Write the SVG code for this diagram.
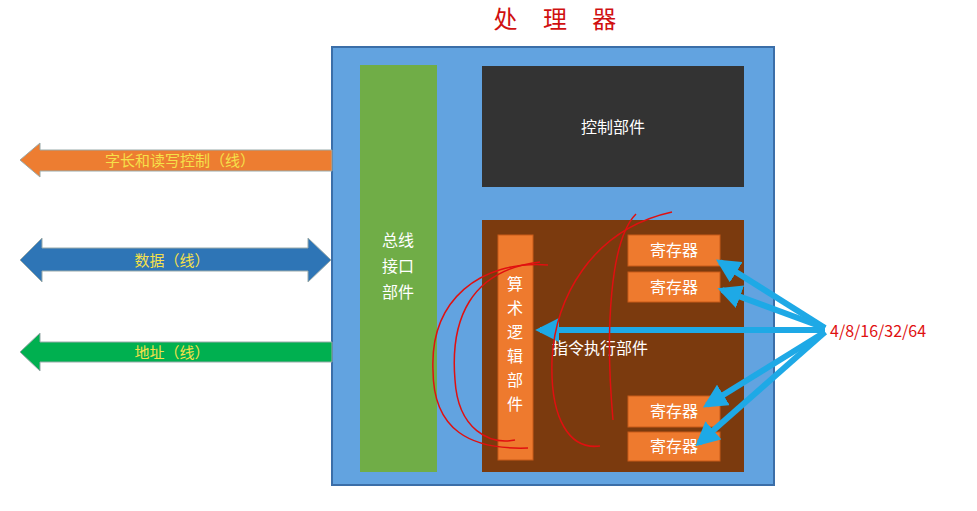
<svg xmlns="http://www.w3.org/2000/svg" width="977" height="511" viewBox="0 0 977 511">
<defs>
<style>
.t{font-family:"Noto Sans CJK SC","Liberation Sans",sans-serif}
.w{fill:#fff;font-size:16px}
.y{fill:#f5e04a;font-size:15px}
.reg{fill:#ee7a2e;stroke:#c85a18;stroke-width:1}
.ba{stroke:#1ea9e6;stroke-width:6;fill:none}
.red{stroke:#e01010;stroke-width:1.5;fill:none}
</style>
<marker id="ah" viewBox="0 0 10 10" refX="8" refY="5" markerWidth="4" markerHeight="4" orient="auto"><path d="M0,0 L10,5 L0,10 z" fill="#1ea9e6"/></marker>
</defs>
<rect width="977" height="511" fill="#fff"/>
<text class="t" x="560" y="28" text-anchor="middle" font-size="24" fill="#d01010" letter-spacing="10">处 理 器</text>
<g id="processor"><rect x="332" y="47" width="442" height="438" fill="#62a3e0" stroke="#3b6ea8" stroke-width="2"/></g>
<g id="bus"><rect x="360" y="65" width="77" height="407" fill="#70ad47"/>
<text class="t w" x="398" y="246" text-anchor="middle">总线</text><text class="t w" x="398" y="272" text-anchor="middle">接口</text><text class="t w" x="398" y="298" text-anchor="middle">部件</text></g>
<g id="ctrl"><rect x="482" y="66" width="262" height="121" fill="#333"/><text class="t w" x="613" y="133" text-anchor="middle">控制部件</text></g>
<g id="exec"><rect x="482" y="220" width="262" height="252" fill="#7b3a0e"/><text class="t w" x="552" y="354">指令执行部件</text></g>
<g id="alu"><rect x="498" y="235" width="35" height="225" class="reg"/>
<text class="t w" x="515" y="290" text-anchor="middle">算</text><text class="t w" x="515" y="314" text-anchor="middle">术</text><text class="t w" x="515" y="338" text-anchor="middle">逻</text><text class="t w" x="515" y="362" text-anchor="middle">辑</text><text class="t w" x="515" y="386" text-anchor="middle">部</text><text class="t w" x="515" y="410" text-anchor="middle">件</text></g>
<g id="r1"><rect x="628" y="235" width="92" height="31" class="reg"/><text class="t w" x="674" y="256" text-anchor="middle">寄存器</text></g>
<g id="r2"><rect x="628" y="272" width="92" height="30" class="reg"/><text class="t w" x="674" y="293" text-anchor="middle">寄存器</text></g>
<g id="r3"><rect x="628" y="396" width="92" height="31" class="reg"/><text class="t w" x="674" y="417" text-anchor="middle">寄存器</text></g>
<g id="r4"><rect x="628" y="432" width="92" height="29" class="reg"/><text class="t w" x="674" y="452" text-anchor="middle">寄存器</text></g>
<g id="ctl-line"><path d="M20,160 L40,143 L40,150 L332,150 L332,171 L40,171 L40,177 z" fill="#ed7d31" stroke="#9aa" stroke-width="1"/><text class="t y" x="180" y="166" text-anchor="middle">字长和读写控制（线）</text></g>
<g id="data-line"><path d="M20,260 L42,238 L42,248 L308,248 L308,238 L331,260 L308,282 L308,271 L42,271 L42,282 z" fill="#2e75b6" stroke="#9aa" stroke-width="1"/><text class="t y" x="172" y="266" text-anchor="middle">数据（线）</text></g>
<g id="addr-line"><path d="M20,352 L40,333 L40,342 L332,342 L332,362 L40,362 L40,371 z" fill="#00b050" stroke="#9aa" stroke-width="1"/><text class="t y" x="172" y="358" text-anchor="middle">地址（线）</text></g>
<g id="connectors">
<path class="ba" marker-end="url(#ah)" d="M825,330 L540,330"/>
<path class="ba" marker-end="url(#ah)" d="M825,328 L720,262"/>
<path class="ba" marker-end="url(#ah)" d="M825,328 L722,290"/>
<path class="ba" marker-end="url(#ah)" d="M825,332 L707,405"/>
<path class="ba" marker-end="url(#ah)" d="M825,332 L699,443"/>
<path class="red" d="M548,265 C480,260 430,300 433,370 C433,430 470,450 528,448"/>
<path class="red" d="M540,262 C470,270 450,320 455,380 C458,430 490,445 515,440"/>
<path class="red" d="M672,212 C590,230 555,300 552,360 C550,420 570,450 600,446"/>
<path class="red" d="M636,214 C610,240 605,330 613,420"/>
</g>
<text class="t" x="830" y="337" font-size="16" fill="#e01010">4/8/16/32/64</text>
</svg>
